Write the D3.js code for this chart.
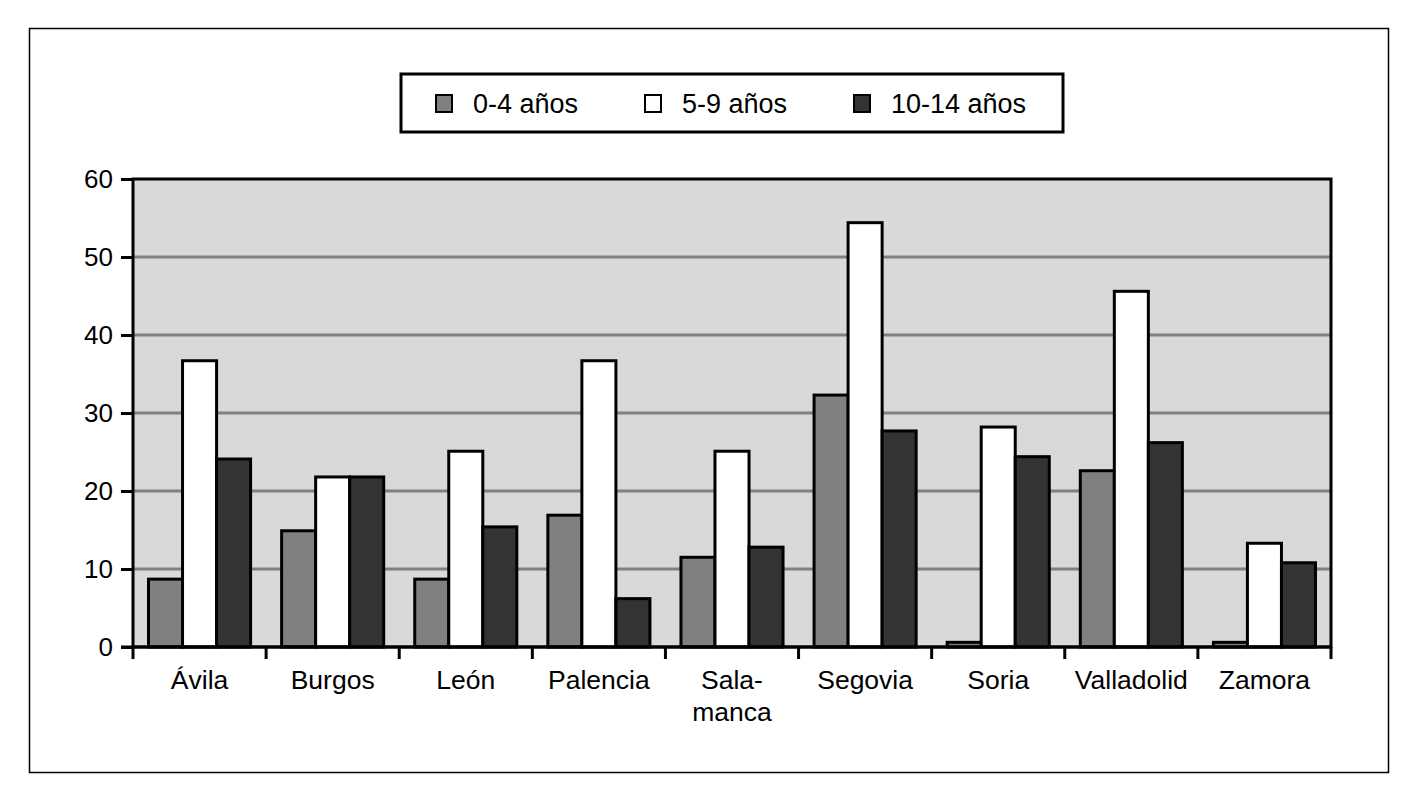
<!DOCTYPE html>
<html><head><meta charset="utf-8">
<script src="https://cdn.jsdelivr.net/npm/d3@7"></script>
<style>body{margin:0;background:#fff}svg{display:block}text{font-family:"Liberation Sans",Arial,sans-serif;fill:#000}</style>
</head><body><svg id="c" width="1404" height="804"></svg>
<script>
const categories = ["Ávila","Burgos","León","Palencia","Sala-\nmanca","Segovia","Soria","Valladolid","Zamora"];
const seriesNames = ["0-4 años","5-9 años","10-14 años"];
const s0_4 = [8.7,14.9,8.7,16.9,11.5,32.3,0.6,22.6,0.6];
const s5_9 = [36.7,21.8,25.1,36.7,25.1,54.4,28.2,45.6,13.3];
const s10_14 = [24.1,21.8,15.4,6.2,12.8,27.7,24.4,26.2,10.8];
const yTicks = [0,10,20,30,40,50,60];
const colors = ["#808080","#ffffff","#333333"];

const svg = d3.select("#c");
const L=133,R=1331,T=179,B=647;
svg.append("rect").attr("x",29.5).attr("y",28.5).attr("width",1359).attr("height",744).attr("fill","none").attr("stroke","#000").attr("stroke-width",1.5);

const x0 = d3.scaleBand().domain(categories).range([L,R]).padding(0);
const x1 = d3.scaleBand().domain(seriesNames).range([0,x0.bandwidth()]).paddingInner(0).paddingOuter(0.456);
const y = d3.scaleLinear().domain([0,60]).range([B,T]);

svg.append("rect").attr("x",L).attr("y",T).attr("width",R-L).attr("height",B-T).attr("fill","#d9d9d9");
svg.append("g").selectAll("line").data(yTicks.filter(d=>d>0&&d<60)).join("line")
  .attr("x1",L).attr("x2",R).attr("y1",d=>y(d)).attr("y2",d=>y(d)).attr("stroke","#808080").attr("stroke-width",3);

const data = [s0_4,s5_9,s10_14];
categories.forEach((c,i)=>{
  seriesNames.forEach((s,j)=>{
    const v=data[j][i];
    svg.append("rect").attr("x",x0(c)+x1(s)).attr("y",y(v)).attr("width",x1.bandwidth()).attr("height",y(0)-y(v))
      .attr("fill",colors[j]).attr("stroke","#000").attr("stroke-width",3);
  });
});

svg.append("rect").attr("x",L).attr("y",T).attr("width",R-L).attr("height",B-T).attr("fill","none").attr("stroke","#000").attr("stroke-width",3);

const ya = svg.append("g").attr("transform",`translate(${L},0)`).call(d3.axisLeft(y).tickValues(yTicks).tickSize(12).tickPadding(8));
ya.select(".domain").remove();
ya.selectAll("line").attr("stroke","#000").attr("stroke-width",3);
ya.selectAll("text").attr("font-size",26).style("font-family","'Liberation Sans',Arial,sans-serif");

const bounds = categories.map(c=>x0(c)).concat([R]);
svg.append("g").selectAll("line").data(bounds).join("line")
  .attr("x1",d=>d).attr("x2",d=>d).attr("y1",B).attr("y2",B+12).attr("stroke","#000").attr("stroke-width",3);
svg.append("line").attr("x1",L-12).attr("x2",R).attr("y1",B).attr("y2",B).attr("stroke","#000").attr("stroke-width",3);

categories.forEach(c=>{
  const t = svg.append("text").attr("x",x0(c)+x0.bandwidth()/2).attr("y",689).attr("text-anchor","middle").attr("font-size",26.5);
  c.split("\n").forEach((ln,k)=>t.append("tspan").attr("x",x0(c)+x0.bandwidth()/2).attr("dy",k?32:0).text(ln));
});

svg.append("rect").attr("x",401).attr("y",74).attr("width",662).attr("height",58).attr("fill","#fff").attr("stroke","#000").attr("stroke-width",3);
const lx=[436,645,854];
seriesNames.forEach((s,j)=>{
  svg.append("rect").attr("x",lx[j]).attr("y",95).attr("width",16).attr("height",17).attr("fill",colors[j]).attr("stroke","#000").attr("stroke-width",2);
  svg.append("text").attr("x",lx[j]+37).attr("y",113).attr("font-size",27).text(s);
});
</script></body></html>
